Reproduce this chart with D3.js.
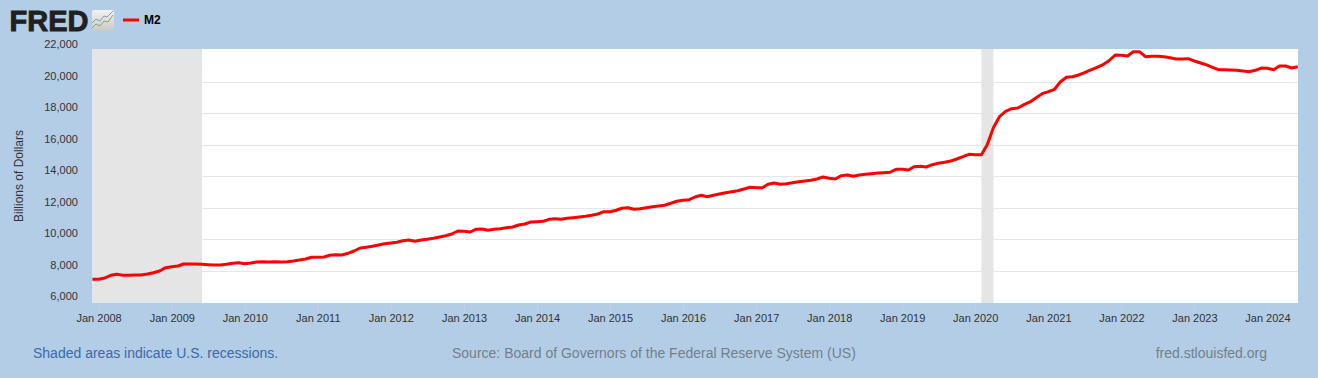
<!DOCTYPE html>
<html>
<head>
<meta charset="utf-8">
<title>M2</title>
<script src="https://cdn.jsdelivr.net/npm/d3@7/dist/d3.min.js"></script>
<style>
    html, body { margin: 0; padding: 0; background: #b3cde6; overflow: hidden; }
    svg { display: block; font-family: "Liberation Sans", Arial, sans-serif; }
</style>
</head>
<body>
<svg id="chart" width="1318" height="378"></svg>
<script>
// M2, monthly, Dec 2007 .. Jun 2024 (billions of dollars)
const firstMonth = '2007-12-01';
const lastMonth = '2024-06-01';
const m2Values = [
    7490, 7490, 7575, 7745, 7810, 7745, 7745, 7765, 7765, 7830, 7910, 8020, 8230, 8290, 8335, 8465, 8465, 8465, 8445, 8420,
    8400, 8400, 8445, 8510, 8545, 8485, 8525, 8590, 8610, 8590, 8610, 8590, 8610, 8655, 8718, 8781, 8889, 8889, 8908, 9016,
    9054, 9035, 9143, 9289, 9480, 9524, 9588, 9670, 9753, 9797, 9842, 9943, 9988, 9905, 9988, 10032, 10096, 10178, 10261, 10369,
    10560, 10540, 10496, 10667, 10686, 10604, 10667, 10705, 10769, 10813, 10940, 11004, 11131, 11150, 11175, 11302, 11340, 11302, 11366, 11404,
    11448, 11493, 11556, 11639, 11785, 11785, 11874, 12001, 12039, 11937, 11975, 12039, 12102, 12147, 12191, 12318, 12445, 12509, 12547, 12718,
    12826, 12737, 12826, 12909, 12991, 13055, 13118, 13226, 13334, 13309, 13309, 13525, 13607, 13525, 13563, 13626, 13690, 13734, 13779, 13861,
    13988, 13906, 13861, 14071, 14115, 14033, 14115, 14160, 14198, 14242, 14261, 14287, 14477, 14477, 14433, 14642, 14668, 14623, 14769, 14858,
    14922, 15004, 15131, 15277, 15430, 15404, 15404, 16039, 17119, 17817, 18160, 18325, 18370, 18579, 18751, 19024, 19278, 19405, 19557, 20019,
    20318, 20356, 20464, 20610, 20782, 20953, 21118, 21385, 21734, 21715, 21670, 21943, 21943, 21627, 21652, 21652, 21627, 21564, 21481, 21481,
    21500, 21354, 21227, 21118, 20953, 20800, 20800, 20780, 20760, 20716, 20672, 20760, 20906, 20887, 20800, 21034, 21034, 20906, 20989
];
const recessionStarts = ['2007-12-01', '2020-02-01'];
const recessionEnds = ['2009-06-01', '2020-04-01'];
const yTicks = [6000, 8000, 10000, 12000, 14000, 16000, 18000, 20000, 22000];
const xTickYears = [2008, 2009, 2010, 2011, 2012, 2013, 2014, 2015, 2016, 2017, 2018, 2019, 2020, 2021, 2022, 2023, 2024];

const plot = { left: 92.4, right: 1298, top: 49, bottom: 303 };

const svg = d3.select('#chart');
const months = d3.utcMonth.range(new Date(firstMonth), d3.utcMonth.offset(new Date(lastMonth), 1));
const series = months.map((d, i) => ({ date: d, value: m2Values[i] }));

const x = d3.scaleUtc()
    .domain([new Date(firstMonth), new Date(lastMonth)])
    .range([plot.left, 1297.8]);

const y = d3.scaleLinear()
    .domain([6000, 22000])
    .range([302.8, 50.8]);

// plot background
svg.append('rect')
    .attr('x', plot.left)
    .attr('y', plot.top)
    .attr('width', plot.right - plot.left)
    .attr('height', plot.bottom - plot.top)
    .attr('fill', '#ffffff');

// recession bands
svg.append('g')
    .selectAll('rect')
    .data(recessionStarts)
    .enter().append('rect')
    .attr('x', d => x(new Date(d)))
    .attr('y', plot.top)
    .attr('width', (d, i) => x(new Date(recessionEnds[i])) - x(new Date(d)))
    .attr('height', plot.bottom - plot.top)
    .attr('fill', '#e5e5e5');

// gridlines (the 6,000 and 22,000 lines fall on the plot edges)
svg.append('g')
    .selectAll('line')
    .data(yTicks.slice(1, -1))
    .enter().append('line')
    .attr('x1', plot.left)
    .attr('x2', plot.right)
    .attr('y1', d => Math.floor(y(d)) + 0.5)
    .attr('y2', d => Math.floor(y(d)) + 0.5)
    .attr('stroke', '#e6e6e6')
    .attr('stroke-width', 1);

// y axis: labels sit a little above their gridlines
const yAxis = svg.append('g')
    .attr('transform', `translate(${plot.left}, 0)`)
    .call(d3.axisLeft(y).tickValues(yTicks).tickSize(0).tickPadding(14.5).tickFormat(d3.format(',')));
yAxis.select('.domain').remove();
yAxis.selectAll('text')
    .attr('dy', '-0.02em')
    .attr('transform', 'translate(0, -3)')
    .style('font-size', '11px')
    .style('font-family', '"Liberation Sans", Arial, sans-serif')
    .attr('fill', '#333333');

// x axis
const xAxis = svg.append('g')
    .attr('transform', `translate(0, ${plot.bottom})`)
    .call(d3.axisBottom(x)
        .tickValues(xTickYears.map(yr => new Date(Date.UTC(yr, 0, 1))))
        .tickSize(10)
        .tickPadding(1)
        .tickFormat(d3.utcFormat('Jan %Y')));
xAxis.select('.domain').remove();
xAxis.selectAll('line').attr('stroke', '#c0d0e6');
xAxis.selectAll('text')
    .style('font-size', '11px')
    .style('font-family', '"Liberation Sans", Arial, sans-serif')
    .attr('fill', '#333333');

// axis title
svg.append('text')
    .attr('transform', 'translate(23, 176) rotate(-90)')
    .attr('text-anchor', 'middle')
    .attr('font-size', '12px')
    .attr('fill', '#333333')
    .text('Billions of Dollars');

// the M2 line
const line = d3.line()
    .x(d => x(d.date))
    .y(d => y(d.value));

svg.append('path')
    .datum(series)
    .attr('fill', 'none')
    .attr('stroke', '#ff0000')
    .attr('stroke-width', 3)
    .attr('stroke-linejoin', 'round')
    .attr('d', line);

// logo
svg.append('text')
    .attr('x', 9.5)
    .attr('y', 31)
    .attr('font-size', '29px')
    .attr('font-weight', 'bold')
    .attr('fill', '#231f20')
    .attr('stroke', '#231f20')
    .attr('stroke-width', 0.9)
    .text('FRED');

const icon = svg.append('g').attr('transform', 'translate(92, 10)');
const iconGrad = svg.append('defs').append('linearGradient')
    .attr('id', 'iconFill')
    .attr('x1', 0).attr('y1', 0).attr('x2', 0).attr('y2', 1);
iconGrad.append('stop').attr('offset', '0%').attr('stop-color', '#f2f2f0');
iconGrad.append('stop').attr('offset', '100%').attr('stop-color', '#c9c9c6');
icon.append('rect')
    .attr('width', 22).attr('height', 21).attr('rx', 2)
    .attr('fill', 'url(#iconFill)');
icon.append('path')
    .attr('d', 'M0 13 L4 9 L8 11 L12 6 L15 7 L21 1')
    .attr('fill', 'none').attr('stroke', '#7f9fbf').attr('stroke-width', 1);
icon.append('path')
    .attr('d', 'M0 18 L4 14 L8 16 L12 11 L16 12 L21 5')
    .attr('fill', 'none').attr('stroke', '#86a96c').attr('stroke-width', 1);

// legend
svg.append('line')
    .attr('x1', 123).attr('x2', 139)
    .attr('y1', 20).attr('y2', 20)
    .attr('stroke', '#ff0000')
    .attr('stroke-width', 3);
svg.append('text')
    .attr('x', 144)
    .attr('y', 24)
    .attr('font-size', '12px')
    .attr('font-weight', 'bold')
    .attr('fill', '#000000')
    .text('M2');

// footer
svg.append('text')
    .attr('x', 33).attr('y', 358)
    .attr('font-size', '14px')
    .attr('fill', '#3c69a6')
    .text('Shaded areas indicate U.S. recessions.');
svg.append('text')
    .attr('x', 452).attr('y', 358)
    .attr('font-size', '14px')
    .attr('fill', '#757f8a')
    .text('Source: Board of Governors of the Federal Reserve System (US)');
svg.append('text')
    .attr('x', 1267).attr('y', 358)
    .attr('text-anchor', 'end')
    .attr('font-size', '14px')
    .attr('fill', '#757f8a')
    .text('fred.stlouisfed.org');
</script>
</body>
</html>
